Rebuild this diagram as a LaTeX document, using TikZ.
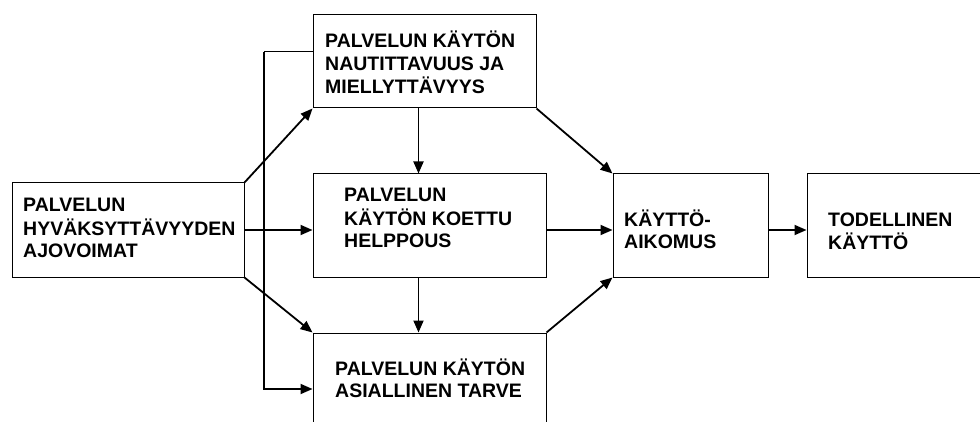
\documentclass[tikz,border=0pt]{standalone}
\usepackage{fontspec}
\setmainfont{Liberation Sans}
\usetikzlibrary{arrows.meta}
\tikzset{
  box/.style={draw, line width=1pt, inner sep=0pt, rectangle},
  lbl/.style={anchor=base west, inner sep=0pt, font=\fontsize{19.5}{22.5}\selectfont\bfseries},
  arr/.style={line width=1.8pt, -{Triangle[length=12pt,width=10pt]}},
  plain/.style={line width=1pt}
}
\newcommand{\lines}[1]{\begin{tabular}[t]{@{}l@{}}#1\end{tabular}}
\begin{document}
\begin{tikzpicture}[x=1pt,y=-1pt]
\useasboundingbox (0,0) rectangle (980,422);
% boxes
\node[box, minimum width=223pt, minimum height=93pt] (A) at (424.5,61.5) {};
\node[box, minimum width=232pt, minimum height=94pt] (L) at (128,230) {};
\node[box, minimum width=233pt, minimum height=103pt] (M) at (429.5,225.5) {};
\node[box, minimum width=233pt, minimum height=112pt] (B) at (429.5,389) {};
\node[box, minimum width=155pt, minimum height=103pt] (K) at (690.5,225.5) {};
\node[box, minimum width=200pt, minimum height=103pt] (T) at (907,225.5) {};
% texts
\node[lbl] (tA) at (325,48) {\lines{PALVELUN KÄYTÖN\\NAUTITTAVUUS JA\\MIELLYTTÄVYYS}};
\node[lbl] (tL) at (23,212) {\lines{PALVELUN\\HYVÄKSYTTÄVYYDEN\\AJOVOIMAT}};
\node[lbl] (tM) at (344,202) {\lines{PALVELUN\\KÄYTÖN KOETTU\\HELPPOUS}};
\node[lbl] (tB) at (335,375) {\lines{PALVELUN KÄYTÖN\\ASIALLINEN TARVE}};
\node[lbl] (tK) at (624,226) {\lines{KÄYTTÖ-\\AIKOMUS}};
\node[lbl] (tT) at (828,226) {\lines{TODELLINEN\\KÄYTTÖ}};
% connectors
\draw[arr] (L.north east) -- (A.south west);
\draw[arr] (L.east) -- (L.east -| M.west);
\draw[arr] (L.south east) -- (B.north west);
\draw[arr] ([xshift=106pt]A.south west) -- ([xshift=106pt]A.south west |- M.north);
\draw[arr] ([xshift=106pt]M.south west) -- ([xshift=106pt]M.south west |- B.north);
\draw[arr] (A.south east) -- (K.north west);
\draw[arr] (L.east -| M.east) -- (L.east -| K.west);
\draw[arr] (B.north east) -- (K.south west);
\draw[arr] (L.east -| K.east) -- (L.east -| T.west);
\coordinate (fb) at (264,52);
\draw[plain] ([yshift=9.5pt]A.west) -- (fb);
\draw[arr] (fb) |- (B.west);
\end{tikzpicture}
\end{document}
